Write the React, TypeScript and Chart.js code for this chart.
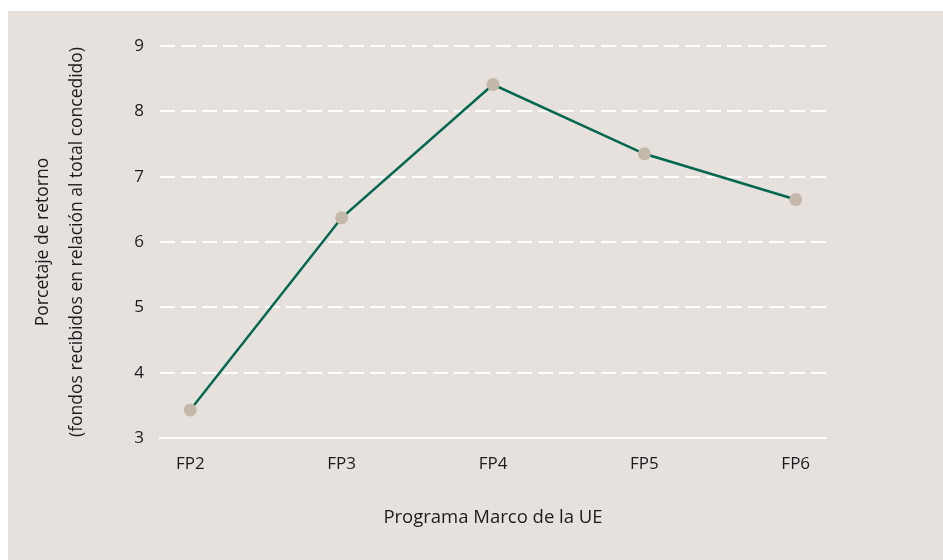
import React, { useEffect, useRef } from "react";
import { Chart, registerables } from "chart.js";

Chart.register(...registerables);

const categories = ["FP2", "FP3", "FP4", "FP5", "FP6"];
const returnValues = [3.43, 6.37, 8.41, 7.35, 6.65];
const yTitleLines = ["Porcetaje de retorno", "(fondos recibidos en relación al total concedido)"];
const xTitle = "Programa Marco de la UE";

const FONT = "'Open Sans', 'Noto Sans', sans-serif";
const TEXT = "#1e1b1c";

export default function App() {
  const ref = useRef<HTMLCanvasElement | null>(null);

  useEffect(() => {
    if (!ref.current) return;
    const chart = new Chart(ref.current, {
      type: "line",
      data: {
        datasets: [
          {
            data: returnValues.map((v, i) => ({ x: i, y: v })),
            borderColor: "#00684f",
            borderWidth: 2.5,
            pointRadius: 6.5,
            pointHoverRadius: 6.5,
            pointBackgroundColor: "#c4b8ab",
            pointBorderWidth: 0,
            tension: 0,
          },
        ],
      },
      options: {
        animation: false,
        responsive: false,
        maintainAspectRatio: false,
        layout: { padding: { top: 35, right: 117, left: 0, bottom: 0 } },
        plugins: { legend: { display: false }, tooltip: { enabled: false } },
        scales: {
          x: {
            type: "linear",
            min: -0.2,
            max: 4.2,
            afterBuildTicks: (s: any) => {
              s.ticks = categories.map((_, i) => ({ value: i }));
            },
            afterFit: (s: any) => {
              s.height = 122;
            },
            grid: { display: false, drawTicks: false },
            border: { display: true, color: "#ffffff", width: 2 },
            ticks: {
              padding: 16,
              autoSkip: false,
              maxRotation: 0,
              color: TEXT,
              font: { family: FONT, size: 17 },
              callback: (v: any) => categories[Math.round(Number(v))] ?? "",
            },
            title: {
              display: true,
              text: xTitle,
              color: TEXT,
              font: { family: FONT, size: 18.5 },
              padding: { top: 0, bottom: 31 },
            },
          },
          y: {
            min: 3,
            max: 9,
            afterFit: (s: any) => {
              s.width = 152;
            },
            grid: { color: "#ffffff", lineWidth: 2, drawTicks: false },
            border: { display: false, dash: [15, 6] },
            ticks: {
              stepSize: 1,
              padding: 16,
              color: TEXT,
              font: { family: FONT, size: 17 },
            },
            title: {
              display: true,
              text: yTitleLines,
              color: TEXT,
              font: { family: FONT, size: 17.5, lineHeight: 1.95 },
              padding: { top: 18, bottom: 0 },
            },
          },
        },
      },
    });
    return () => chart.destroy();
  }, []);

  return (
    <div
      style={{
        position: "absolute",
        left: 8,
        top: 11,
        width: 935,
        height: 549,
        background: "#e6e1dc",
      }}
    >
      <canvas ref={ref} width={935} height={549} style={{ display: "block" }} />
    </div>
  );
}
